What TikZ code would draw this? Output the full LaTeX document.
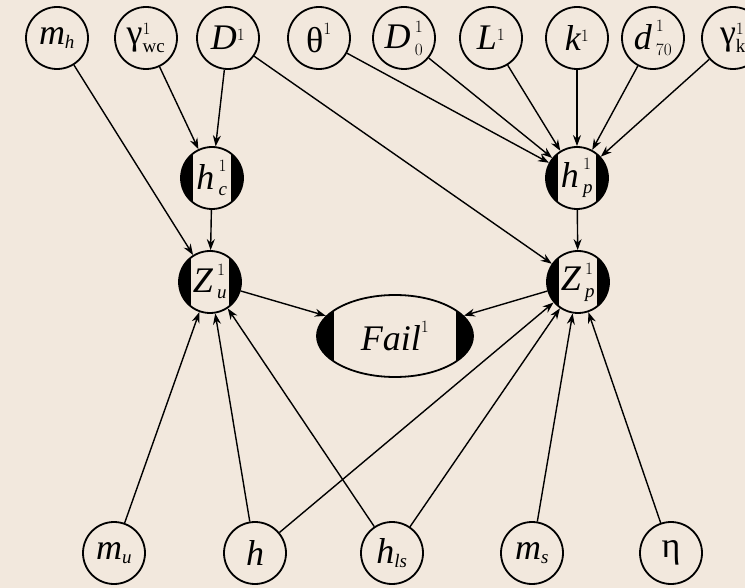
\documentclass[tikz,border=0pt]{standalone}
\usepackage{amsmath}
\usepackage{fontspec}
\setmainfont{Liberation Serif}
\DeclareMathSizes{36}{36}{19}{14}
\usetikzlibrary{shapes.geometric,arrows.meta}
\definecolor{bgbeige}{RGB}{242,232,221}
\tikzset{
  var/.style={circle, draw=black, line width=1.8pt, fill=bgbeige, minimum size=62pt, inner sep=0pt,
    font=\fontsize{36}{40}\selectfont},
  detvar/.style={var, path picture={
    \fill[black] ([xshift=-2pt,yshift=-2pt]path picture bounding box.south west) rectangle ([xshift=12pt,yshift=2pt]path picture bounding box.north west);
    \fill[black] ([xshift=2pt,yshift=-2pt]path picture bounding box.south east) rectangle ([xshift=-12pt,yshift=2pt]path picture bounding box.north east);}},
  failnode/.style={ellipse, draw=black, line width=1.8pt, fill=bgbeige, minimum width=156pt, minimum height=82pt, inner sep=0pt,
    font=\fontsize{36}{40}\selectfont, path picture={
    \fill[black] ([xshift=-2pt,yshift=-2pt]path picture bounding box.south west) rectangle ([xshift=17pt,yshift=2pt]path picture bounding box.north west);
    \fill[black] ([xshift=2pt,yshift=-2pt]path picture bounding box.south east) rectangle ([xshift=-17pt,yshift=2pt]path picture bounding box.north east);}},
  link/.style={line width=1.4pt, -{Stealth[length=11pt,width=8pt]}}
}
\begin{document}
\begin{tikzpicture}[x=1pt,y=-1pt]
\fill[bgbeige] (0,0) rectangle (745,588);
\useasboundingbox (0,0) rectangle (745,588);
% top row
\node[var] (mh)  at (57,38)  {$\mathit{m}_{\mathit{h}}$};
\node[var] (gwc) at (146,38) {$\text{γ}^{1}_{\mathrm{wc}}$};
\node[var] (D)   at (228,38) {$\mathit{D}^{1}$};
\node[var] (th)  at (319,38) {$\text{θ}^{1}$};
\node[var] (D0)  at (404,38) {${\mathit{D}\,}^{1}_{0}$};
\node[var] (L)   at (491,38) {$\mathit{L}^{1}$};
\node[var] (k)   at (577,38) {$\mathit{k}^{1}$};
\node[var] (d70) at (653,38) {${\mathit{d}\,}^{1}_{70}$};
\node[var] (gk)  at (733,38) {$\text{γ}^{1}_{\mathrm{k}}$};
% middle
\node[detvar] (hc) at (212,178) {${\mathit{h}\,}^{1}_{\mathit{c}}$};
\node[detvar] (hp) at (577,178) {${\mathit{h}\,}^{1}_{\mathit{p}}$};
\node[detvar] (Zu) at (210,282) {${\mathit{Z}\,}^{1}_{\mathit{u}}$};
\node[detvar] (Zp) at (578,282) {${\mathit{Z}\,}^{1}_{\mathit{p}}$};
\node[failnode] (F) at (395,336) {$\mathit{Fail}^{1}$};
% bottom row
\node[var] (mu)  at (114,553) {$\mathit{m}_{\mathit{u}}$};
\node[var] (h)   at (255,553) {$\mathit{h}$};
\node[var] (hls) at (392,553) {$\mathit{h}_{\mathit{ls}}$};
\node[var] (ms)  at (532,553) {$\mathit{m}_{\mathit{s}}$};
\node[var] (eta) at (671,553) {$\text{η}$};
% edges
\draw[link] (mh) -- (Zu);
\draw[link] (gwc) -- (hc);
\draw[link] (D) -- (hc);
\draw[link] (D) -- (Zp);
\draw[link] (th) -- (hp);
\draw[link] (D0) -- (hp);
\draw[link] (L) -- (hp);
\draw[link] (k) -- (hp);
\draw[link] (d70) -- (hp);
\draw[link] (gk) -- (hp);
\draw[link] (hc) -- (Zu);
\draw[link] (hp) -- (Zp);
\draw[link] (Zu) -- (F);
\draw[link] (Zp) -- (F);
\draw[link] (mu) -- (Zu);
\draw[link] (h) -- (Zu);
\draw[link] (h) -- (Zp);
\draw[link] (hls) -- (Zu);
\draw[link] (hls) -- (Zp);
\draw[link] (ms) -- (Zp);
\draw[link] (eta) -- (Zp);
\end{tikzpicture}
\end{document}
